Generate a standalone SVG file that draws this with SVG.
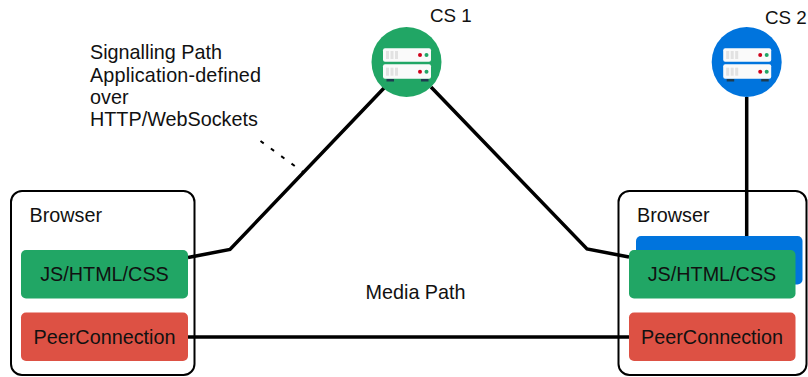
<svg xmlns="http://www.w3.org/2000/svg" width="808" height="377" viewBox="0 0 808 377">
<style>
text{font-family:"Liberation Sans",Arial,sans-serif;font-size:19.800px;fill:#111}
.c{text-anchor:middle}
.box{fill:#fff;stroke:#000;stroke-width:2}
.g{fill:#21a665}.r{fill:#dd5144}.b{fill:#0074dd}
.ln{fill:none;stroke:#000;stroke-width:3.500}
.sv{fill:#fafafa}.d{fill:#e2e2e2}.rd{fill:#d0021b}.gd{fill:#21a665}.ft{fill:#1e3c50}
</style>
<defs>
<g id="srv">
<rect x="-20" y="17" width="7.500" height="2.500" class="ft"/><rect x="14.500" y="17" width="7.500" height="2.500" class="ft"/>
<rect x="-23.500" y="-13.700" width="48" height="13.400" rx="2" class="sv"/>
<rect x="-23.500" y="2.300" width="48" height="14.400" rx="2" class="sv"/>
<rect x="-20.500" y="-11" width="3" height="8" class="d"/><rect x="-16" y="-11" width="3" height="8" class="d"/><rect x="-11.500" y="-11" width="3" height="8" class="d"/>
<rect x="-20.500" y="5.700" width="3" height="8" class="d"/><rect x="-16" y="5.700" width="3" height="8" class="d"/><rect x="-11.500" y="5.700" width="3" height="8" class="d"/>
<circle cx="13.500" cy="-7" r="2" class="rd"/><circle cx="20" cy="-7" r="2" class="gd"/>
<circle cx="13.500" cy="9.700" r="2" class="rd"/><circle cx="20" cy="9.700" r="2" class="gd"/>
</g>
</defs>
<g id="browser-left">
<rect x="11" y="191" width="183.500" height="184" rx="11" class="box"/>
<text x="29.500" y="222">Browser</text>
</g>
<g id="browser-right">
<rect x="618.500" y="191" width="188" height="184" rx="11" class="box"/>
<text x="637" y="222">Browser</text>
</g>
<g id="blue-right"><rect x="636" y="236" width="166.500" height="48.500" rx="5" class="b"/></g>
<g id="connectors">
<path class="ln" d="M188 257.500L230 249.500L385 87"/>
<path class="ln" d="M431 87L587 249L629 257"/>
<path class="ln" d="M188 337H629"/>
<path class="ln" d="M746.700 97V236"/>
<path fill="none" stroke="#000" stroke-width="2" stroke-dasharray="4 8.800" d="M260.500 141L303 172"/>
</g>
<g id="js-left"><rect x="21" y="250" width="167" height="48.500" rx="5" class="g"/><text class="c" x="104.500" y="281">JS/HTML/CSS</text></g>
<g id="pc-left"><rect x="21" y="312.500" width="167" height="48.500" rx="5" class="r"/><text class="c" x="104.500" y="344">PeerConnection</text></g>
<g id="js-right"><rect x="629" y="250" width="166.500" height="48.500" rx="5" class="g"/><text class="c" x="712" y="281">JS/HTML/CSS</text></g>
<g id="pc-right"><rect x="629" y="312.500" width="166.500" height="48.500" rx="5" class="r"/><text class="c" x="712" y="344">PeerConnection</text></g>
<g id="cs1"><circle cx="406.500" cy="62" r="35" class="g"/><use href="#srv" x="406.500" y="62"/><text x="430" y="22" style="font-size:18.800px">CS 1</text></g>
<g id="cs2"><circle cx="746.700" cy="62" r="35" class="b"/><use href="#srv" x="746.700" y="62"/><text x="765" y="24" style="font-size:18.800px">CS 2</text></g>
<g id="labels">
<text x="90" y="59">Signalling Path</text>
<text x="90" y="82" textLength="171">Application-defined</text>
<text x="90" y="104">over</text>
<text x="90" y="126">HTTP/WebSockets</text>
<text x="365.500" y="298.500">Media Path</text>
</g>
</svg>
